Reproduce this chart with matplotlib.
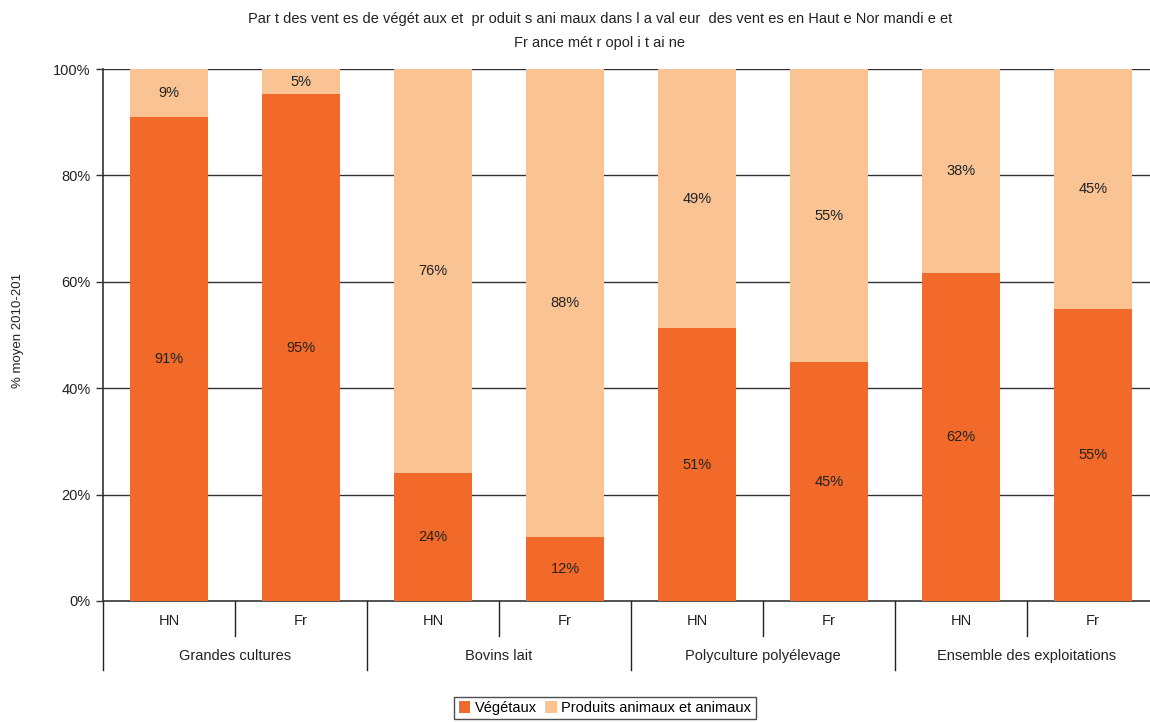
import matplotlib
matplotlib.use("Agg")
import matplotlib.pyplot as plt
import matplotlib.transforms as mtransforms

plt.rcParams['font.family'] = ['Liberation Sans', 'DejaVu Sans']

groups = ["Grandes cultures", "Bovins lait", "Polyculture polyélevage", "Ensemble des exploitations"]
subcats = ["HN", "Fr"]
vegetaux = [91, 95, 24, 12, 51, 45, 62, 55]
animaux = [9, 5, 76, 88, 49, 55, 38, 45]
vegetaux_bar = [91, 95.3, 24, 12, 51.3, 44.9, 61.7, 54.9]
series_names = ["Végétaux", "Produits animaux et animaux"]
title = ("Par t des vent es de végét aux et  pr oduit s ani maux dans l a val eur  des vent es en Haut e Nor mandi e et\n"
         "Fr ance mét r opol i t ai ne")
ylabel = "% moyen 2010-201"

c_veg = "#F26A29"
c_ani = "#F9C394"

fig = plt.figure(figsize=(11.5, 7.22), dpi=100)
W, H = 1150, 722
left, right, top, bottom = 103, 1159, 69, 601
ax = fig.add_axes([left / W, 1 - bottom / H, (right - left) / W, (bottom - top) / H])

n = len(vegetaux)
x = list(range(n))
top_vals = [100 - v for v in vegetaux_bar]
bw = 0.59
ax.bar(x, vegetaux_bar, width=bw, color=c_veg, label=series_names[0], zorder=3)
ax.bar(x, top_vals, bottom=vegetaux_bar, width=bw, color=c_ani, label=series_names[1], zorder=3)

for i in range(n):
    ax.text(x[i], vegetaux_bar[i] / 2, f"{vegetaux[i]}%", ha="center", va="center", fontsize=10.5, color="#222222", zorder=4)
    ax.text(x[i], vegetaux_bar[i] + top_vals[i] / 2, f"{animaux[i]}%", ha="center", va="center", fontsize=10.5, color="#222222", zorder=4)

ax.set_xlim(-0.5, n - 0.5)
ax.set_ylim(0, 100)
ax.set_yticks([0, 20, 40, 60, 80, 100])
ax.set_yticklabels([f"{t}%" for t in [0, 20, 40, 60, 80, 100]], fontsize=10.5, color="#222222")
ax.tick_params(axis="y", direction="out", length=5, width=1, color="#333333", pad=4)
ax.set_xticks([])
for t in [20, 40, 60, 80, 100]:
    ax.axhline(t, color="#333333", lw=1, zorder=1)
for s in ["top", "right"]:
    ax.spines[s].set_visible(False)
ax.spines["left"].set_color("#333333")
ax.spines["bottom"].set_color("#333333")
ax.spines["left"].set_linewidth(1.2)
ax.spines["bottom"].set_linewidth(1.2)

# hierarchical x labels
trans = mtransforms.blended_transform_factory(ax.transData, ax.transAxes)
ph = bottom - top
def ya(py):
    return -(py - bottom) / ph

for gi, g in enumerate(groups):
    start = gi * 2 - 0.5
    ax.plot([start, start], [0, ya(670)], transform=trans, color="#222222", lw=1, clip_on=False)
    ax.plot([start + 1, start + 1], [0, ya(636)], transform=trans, color="#222222", lw=1, clip_on=False)
    ax.text(start + 1, ya(656), g, transform=trans, ha="center", va="center", fontsize=10.5, color="#222222")
    for si, s in enumerate(subcats):
        ax.text(start + 0.5 + si, ya(621), s, transform=trans, ha="center", va="center", fontsize=10.5, color="#222222")

ax.set_ylabel(ylabel, fontsize=9.5, color="#222222")
ax.yaxis.set_label_coords(-(103 - 24) / (right - left), ya(330))

fig.text(600 / W, 1 - 31 / H, title, ha="center", va="center", fontsize=10.5, color="#222222", linespacing=1.85)

leg = fig.legend(loc="center", bbox_to_anchor=(605 / W, 1 - 708 / H), ncol=2, frameon=True, fontsize=10.5,
                 handlelength=0.8, handleheight=0.8, handletextpad=0.3, columnspacing=0.6,
                 borderpad=0.3, fancybox=False, edgecolor="#222222")
leg.get_frame().set_linewidth(1)

fig.savefig("out.png", dpi=100, facecolor="white")
